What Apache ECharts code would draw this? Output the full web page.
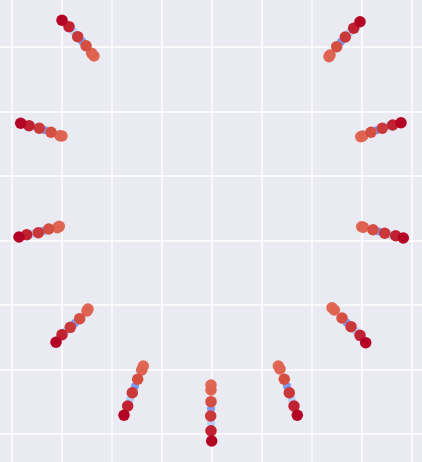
<!DOCTYPE html>
<html>
<head>
<meta charset="utf-8">
<script src="https://cdn.jsdelivr.net/npm/echarts@6/dist/echarts.min.js"></script>
<style>
html,body{margin:0;padding:0;background:#EAEAF2;}
#c{width:422px;height:462px;}
</style>
</head>
<body>
<div id="c"></div>
<script>
// Large dots, each ray listed inner -> outer
const dotX = [
  -2.35,-2.396,-2.51,-2.676,-2.85,-2.99,
  2.35,2.37,2.504,2.676,2.844,2.97,
  -2.99,-3.03,-3.21,-3.444,-3.65,-3.816,
  2.984,3.024,3.19,3.416,3.624,3.79,
  -3.044,-3.084,-3.256,-3.464,-3.696,-3.85,
  3.004,3.036,3.23,3.464,3.684,3.836,
  -2.47,-2.49,-2.636,-2.824,-2.99,-3.11,
  2.41,2.456,2.61,2.79,2.97,3.084,
  -1.364,-1.396,-1.476,-1.584,-1.676,-1.75,
  1.336,1.37,1.456,1.556,1.65,1.716,
  -0.01,-0.01,-0.01,-0.016,-0.01,0.004
];
const dotY = [
  2.860,2.902,3.020,3.160,3.315,3.414,
  2.850,2.876,3.005,3.155,3.290,3.392,
  1.620,1.625,1.678,1.740,1.780,1.817,
  1.609,1.620,1.678,1.740,1.791,1.826,
  0.220,0.198,0.178,0.121,0.090,0.054,
  0.214,0.205,0.167,0.112,0.074,0.039,
  -1.062,-1.093,-1.212,-1.346,-1.460,-1.578,
  -1.042,-1.078,-1.202,-1.336,-1.470,-1.584,
  -1.946,-2.008,-2.152,-2.360,-2.566,-2.710,
  -1.946,-1.992,-2.152,-2.360,-2.566,-2.710,
  -2.240,-2.318,-2.499,-2.721,-2.949,-3.109
];
const dotV = [
  0.85,0.86,0.90,0.93,0.96,1.0,
  0.85,0.86,0.90,0.93,0.96,1.0,
  0.85,0.86,0.90,0.93,0.96,1.0,
  0.85,0.86,0.90,0.93,0.96,1.0,
  0.85,0.86,0.90,0.93,0.96,1.0,
  0.85,0.86,0.90,0.93,0.96,1.0,
  0.85,0.86,0.90,0.93,0.96,1.0,
  0.85,0.86,0.90,0.93,0.96,1.0,
  0.85,0.86,0.90,0.93,0.96,1.0,
  0.85,0.86,0.90,0.93,0.96,1.0,
  0.85,0.86,0.90,0.93,0.96,1.0
];
// Small underlying points (partly hidden behind large dots)
const haloX = [
  -2.92,-2.76,-2.59,
  2.91,2.76,2.59,
  -3.73,-3.55,-3.33,
  3.71,3.52,3.30,
  -3.77,-3.58,-3.36,
  3.76,3.57,3.35,
  -3.05,-2.91,-2.73,
  3.03,2.88,2.70,
  -1.71,-1.63,-1.53,
  1.68,1.60,1.51,
  0.0,-0.01,-0.01
];
const haloY = [
  3.36,3.24,3.09,
  3.34,3.22,3.08,
  1.80,1.76,1.71,
  1.81,1.77,1.71,
  0.07,0.11,0.15,
  0.06,0.09,0.14,
  -1.52,-1.40,-1.28,
  -1.53,-1.40,-1.27,
  -2.64,-2.46,-2.26,
  -2.64,-2.46,-2.26,
  -3.03,-2.83,-2.61
];
const haloV = [
  0.65,0.35,0.15,
  0.65,0.35,0.15,
  0.65,0.35,0.15,
  0.65,0.35,0.15,
  0.65,0.35,0.15,
  0.65,0.35,0.15,
  0.65,0.35,0.15,
  0.65,0.35,0.15,
  0.65,0.35,0.15,
  0.65,0.35,0.15,
  0.65,0.35,0.15
];

const coolwarm = ['#3b4cc0','#5977e3','#7b9ff9','#9ebeff','#c0d4f5','#dddcdc','#f2cbb7','#f7a889','#ee8468','#d44e41','#b40426'];

const dots = dotX.map((x, i) => [x, dotY[i], dotV[i]]);
const halo = haloX.map((x, i) => [x, haloY[i], haloV[i]]);

const axisCommon = {
  type: 'value',
  interval: 1,
  axisLine: {show: false},
  axisTick: {show: false},
  axisLabel: {show: false},
  splitLine: {show: true, lineStyle: {color: '#ffffff', width: 1.5}}
};

const chart = echarts.init(document.getElementById('c'), null, {renderer: 'canvas'});
chart.setOption({
  animation: false,
  backgroundColor: '#EAEAF2',
  grid: {left: -38.5, top: -17.5, width: 500, height: 516, show: true, backgroundColor: '#EAEAF2', borderWidth: 0, containLabel: false, outerBoundsMode: 'none'},
  xAxis: Object.assign({}, axisCommon, {min: -5, max: 5}),
  yAxis: Object.assign({}, axisCommon, {min: -4, max: 4}),
  visualMap: {
    show: false,
    type: 'continuous',
    dimension: 2,
    min: 0,
    max: 1,
    seriesIndex: [0, 1],
    inRange: {color: coolwarm}
  },
  series: [
    {type: 'scatter', data: halo, symbolSize: 8, itemStyle: {opacity: 0.85}, silent: true, clip: false},
    {type: 'scatter', data: dots, symbolSize: 11.5, itemStyle: {opacity: 1}, silent: true, clip: false}
  ]
});
</script>
</body>
</html>
